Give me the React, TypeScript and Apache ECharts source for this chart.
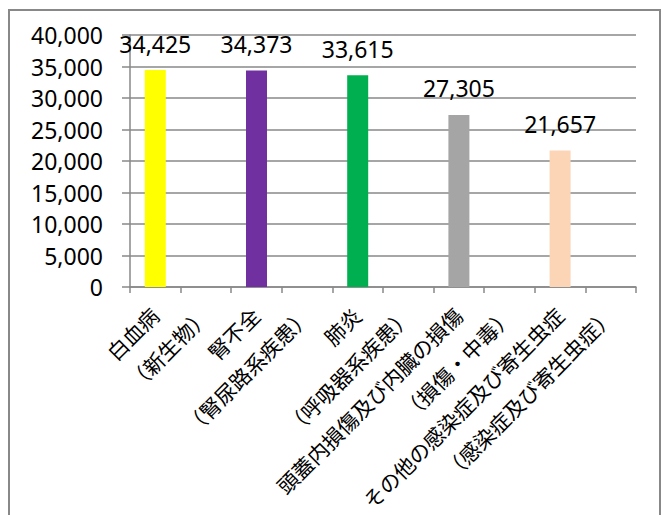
import React, { useEffect, useRef } from "react";
import * as echarts from "echarts";

const categories = [
  "白血病",
  "（新生物）",
  "腎不全",
  "（腎尿路系疾患）",
  "肺炎",
  "（呼吸器系疾患）",
  "頭蓋内損傷及び内臓の損傷",
  "（損傷・中毒）",
  "その他の感染症及び寄生虫症",
  "（感染症及び寄生虫症）",
];
const values: (number | null)[] = [34425, null, 34373, null, 33615, null, 27305, null, 21657, null];
const barColors = ["#FFFF00", "#FFFFFF", "#7030A0", "#FFFFFF", "#00B050", "#FFFFFF", "#A5A5A5", "#FFFFFF", "#FBD5B5", "#FFFFFF"];

const FONT = "'Noto Sans', 'Noto Sans CJK JP', sans-serif";

export default function App() {
  const ref = useRef<HTMLDivElement>(null);
  useEffect(() => {
    if (!ref.current) return;
    const chart = echarts.init(ref.current, null, { renderer: "svg" });
    chart.setOption({
      animation: false,
      backgroundColor: "#FFFFFF",
      textStyle: { fontFamily: FONT },
      grid: { left: 130, right: 26, top: 35, bottom: 228, containLabel: false, outerBoundsMode: "none" },
      graphic: [
        {
          type: "rect",
          shape: { x: 9, y: 10, width: 651, height: 520 },
          style: { fill: "none", stroke: "#888888", lineWidth: 2 },
          z: 100,
        },
      ],
      xAxis: {
        type: "category",
        data: categories,
        boundaryGap: true,
        axisLine: { show: true, lineStyle: { color: "#888888", width: 1.5 } },
        axisTick: { show: true, interval: 0, length: 6, lineStyle: { color: "#888888", width: 1.5 } },
        axisLabel: {
          interval: 0,
          rotate: 45,
          margin: 25,
          fontSize: 21,
          color: "#000000",
          fontFamily: FONT,
        },
        splitLine: { show: false },
      },
      yAxis: {
        type: "value",
        min: 0,
        max: 40000,
        interval: 5000,
        axisLine: { show: true, lineStyle: { color: "#888888", width: 1.5 } },
        axisTick: { show: true, length: 8, lineStyle: { color: "#888888", width: 1.5 } },
        axisLabel: {
          margin: 27,
          fontSize: 23,
          color: "#000000",
          fontFamily: FONT,
          formatter: (v: number) => v.toLocaleString("en-US"),
        },
        splitLine: { show: true, lineStyle: { color: "#888888", width: 1.5 } },
      },
      series: [
        {
          type: "bar",
          barWidth: 21,
          data: values.map((v, i) => ({ value: v, itemStyle: { color: barColors[i] } })),
          label: {
            show: true,
            position: "top",
            distance: 15,
            fontSize: 23,
            color: "#000000",
            fontFamily: FONT,
            formatter: (p: any) => (p.value == null ? "" : Number(p.value).toLocaleString("en-US")),
          },
        },
      ],
    });
    return () => chart.dispose();
  }, []);
  return (
    <div
      ref={ref}
      style={{ position: "fixed", left: 0, top: 0, width: 662, height: 515, background: "#FFFFFF" }}
    />
  );
}
